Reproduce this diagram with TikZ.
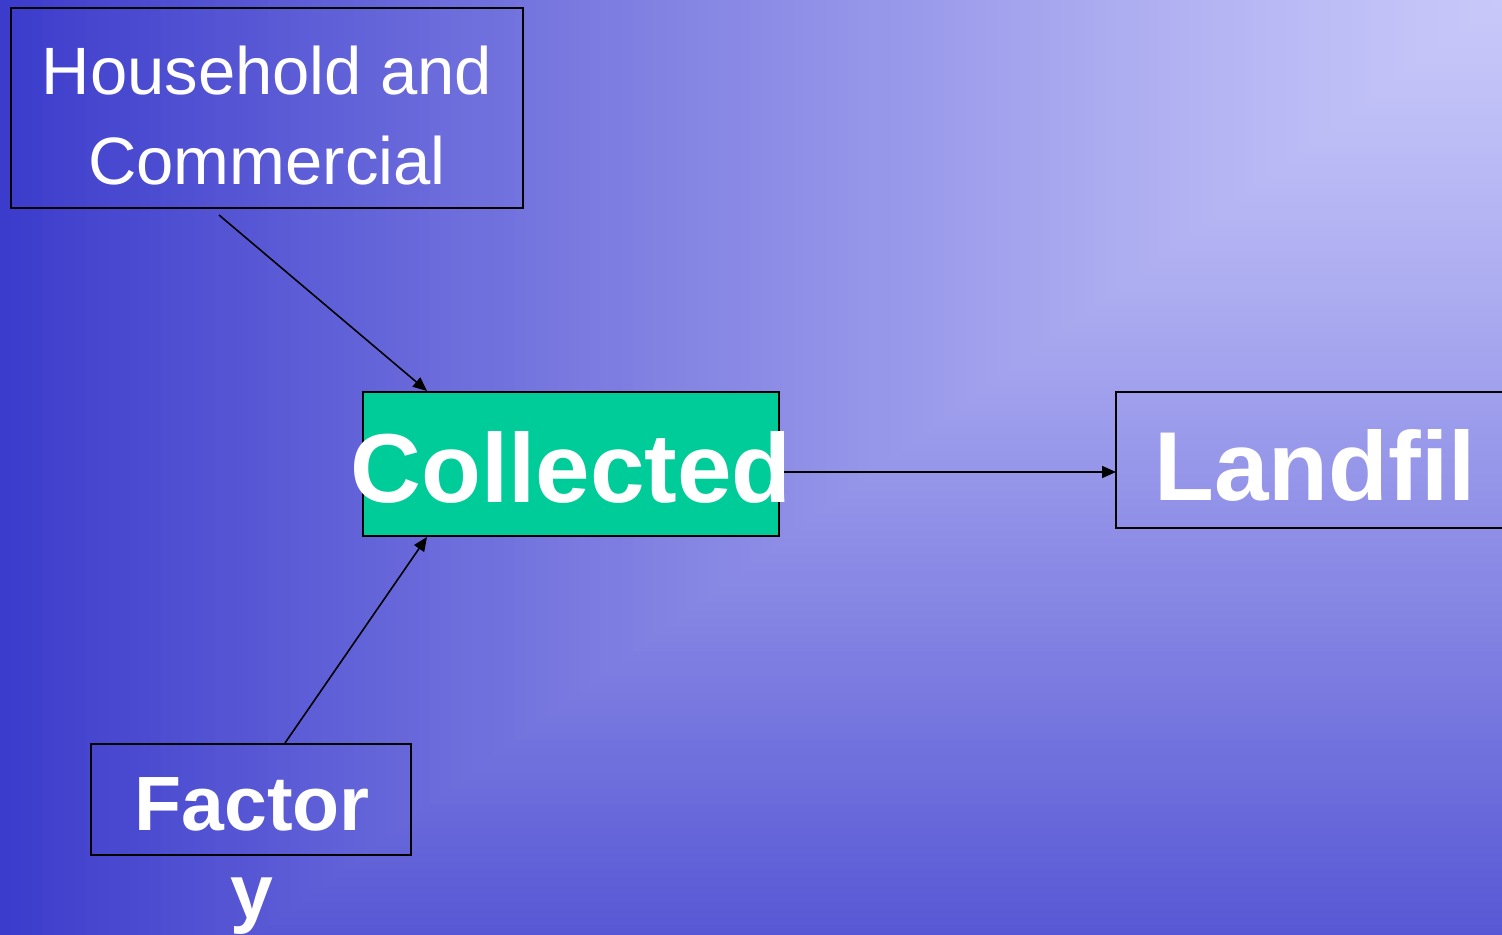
\documentclass[tikz,border=0pt]{standalone}
\usepackage{fontspec}
\setmainfont{Liberation Sans}
\usetikzlibrary{arrows.meta}
\definecolor{bgdark}{HTML}{3C3CCC}
\definecolor{bglight}{HTML}{C8C8FA}
\definecolor{colgreen}{HTML}{00CC99}
\tikzset{
  box/.style={draw=black, line width=1pt, rectangle, inner sep=0pt},
  lbl/.style={text=white, inner sep=0pt, anchor=base},
  arr/.style={draw=black, line width=0.8pt, -{Triangle[length=7pt,width=6pt]}}
}
\begin{document}
\begin{tikzpicture}[x=0.5pt,y=-0.5pt]
\useasboundingbox (0,0) rectangle (1502,935);
\clip (0,0) rectangle (1502,935);
% background: rectangular gradient from the top right corner
\foreach \i in {140,139,...,1}{
  \pgfmathsetmacro{\t}{\i/140}
  \pgfmathsetmacro{\p}{100*(1-\t^1.2)}
  \fill[bglight!\p!bgdark] ({1502-\t*1502},0) rectangle (1503,{\t*1126});
}
% boxes
\node[box, minimum width=256pt, minimum height=100pt] (hh) at (267,108) {};
\node[box, fill=colgreen, minimum width=208pt, minimum height=72pt] (col) at (571,464) {};
\node[box, minimum width=220pt, minimum height=68pt] (land) at (1336,460) {};
\node[box, minimum width=160pt, minimum height=55.5pt] (fac) at (251,799.5) {};
% connector end points
\coordinate (hhout) at (219,215);
\coordinate (colin1) at (427,391);
\coordinate (facout) at (285,743);
\coordinate (colin2) at (427,537);
\coordinate (colout) at (779,472);
\coordinate (landin) at (1116,472);
\draw[arr] (hhout) -- (colin1);
\draw[arr] (facout) -- (colin2);
\draw[arr] (colout) -- (landin);
% texts
\node[lbl, font=\fontsize{33.5pt}{40pt}\selectfont] (t1) at (267,95) {Household and};
\node[lbl, font=\fontsize{33.5pt}{40pt}\selectfont] (t2) at (267,185) {Commercial};
\node[lbl, font=\fontsize{49pt}{58pt}\selectfont\bfseries] (t3) at (571,502) {Collected};
\node[lbl, font=\fontsize{49pt}{58pt}\selectfont\bfseries] (t4) at (1315,500) {Landfil};
\node[lbl, font=\fontsize{38.5pt}{46pt}\selectfont\bfseries] (t5) at (252,830) {Factor};
\node[lbl, font=\fontsize{38.5pt}{46pt}\selectfont\bfseries] (t6) at (252,918) {y};
\end{tikzpicture}
\end{document}
